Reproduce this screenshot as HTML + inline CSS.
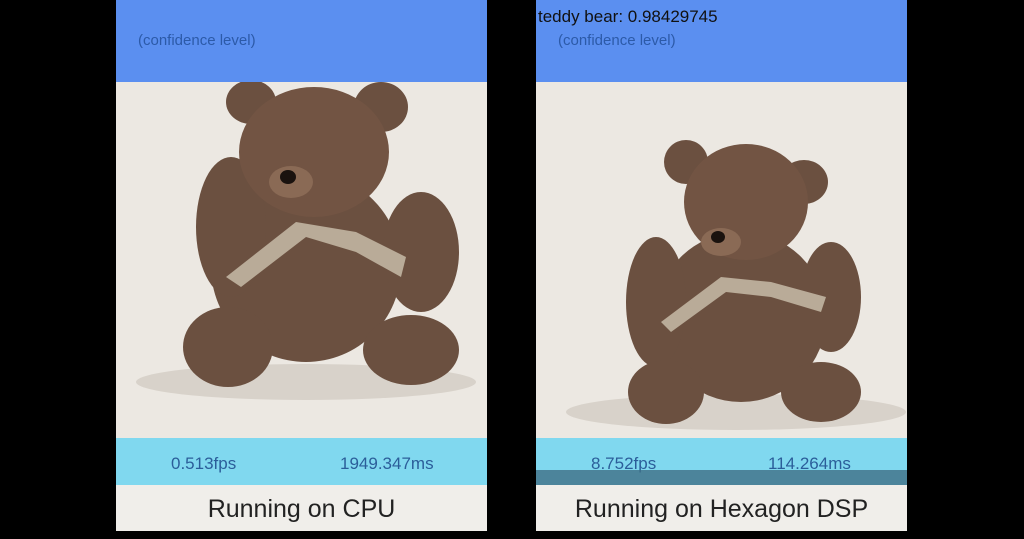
<!DOCTYPE html>
<html><head><meta charset="utf-8"><style>
body{margin:0;width:1024px;height:539px;background:#000;overflow:hidden;position:relative;font-family:"Liberation Sans",sans-serif}
.panel{position:absolute;top:0;width:371px;height:531px;background:#ece8e2}
.hdr{position:absolute;left:0;top:0;width:100%;height:82px;background:#5b8ff0}
.conf{position:absolute;left:22px;top:32px;font-size:15px;color:#2c5aa8}
.stats{position:absolute;left:0;top:438px;width:100%;height:47px;background:#80d8ef;font-size:17px;color:#2b5e9a}
.stats span{position:absolute;top:16px}
.foot{position:absolute;left:0;top:485px;width:100%;height:46px;background:#f0eeea;text-align:center;font-size:25px;line-height:48px;color:#222}
svg{position:absolute;left:0;top:82px}
</style></head><body>
<div class="panel" style="left:116px">
 <div class="hdr"><div class="conf">(confidence level)</div></div>
 <svg width="371" height="356">
  <g fill="#6b5040">
   <ellipse cx="190" cy="300" rx="170" ry="18" fill="#d8d2ca"/>
   <ellipse cx="190" cy="185" rx="95" ry="95"/>
   <ellipse cx="115" cy="145" rx="35" ry="70"/>
   <ellipse cx="305" cy="170" rx="38" ry="60"/>
   <ellipse cx="112" cy="265" rx="45" ry="40"/>
   <ellipse cx="295" cy="268" rx="48" ry="35"/>
   <ellipse cx="135" cy="20" rx="25" ry="22"/>
   <ellipse cx="265" cy="25" rx="27" ry="25"/>
   <ellipse cx="198" cy="70" rx="75" ry="65" fill="#725443"/>
   <ellipse cx="175" cy="100" rx="22" ry="16" fill="#8a6a55"/>
   <ellipse cx="172" cy="95" rx="8" ry="7" fill="#1a120e"/>
   <polygon points="110,195 180,140 240,150 290,175 285,195 240,170 190,155 125,205" fill="#b9ab98"/>
  </g>
 </svg>
 <div class="stats"><span style="left:55px">0.513fps</span><span style="left:224px">1949.347ms</span></div>
 <div class="foot">Running on CPU</div>
</div>
<div class="panel" style="left:536px">
 <div class="hdr">
  <div style="position:absolute;left:2px;top:7px;font-size:17px;color:#111">teddy bear: 0.98429745</div>
  <div class="conf">(confidence level)</div></div>
 <svg width="371" height="356">
  <g fill="#6b5040">
   <ellipse cx="200" cy="330" rx="170" ry="18" fill="#d8d2ca"/>
   <ellipse cx="205" cy="235" rx="85" ry="85"/>
   <ellipse cx="120" cy="220" rx="30" ry="65"/>
   <ellipse cx="295" cy="215" rx="30" ry="55"/>
   <ellipse cx="130" cy="310" rx="38" ry="32"/>
   <ellipse cx="285" cy="310" rx="40" ry="30"/>
   <ellipse cx="150" cy="80" rx="22" ry="22"/>
   <ellipse cx="268" cy="100" rx="24" ry="22"/>
   <ellipse cx="210" cy="120" rx="62" ry="58" fill="#725443"/>
   <ellipse cx="185" cy="160" rx="20" ry="14" fill="#8a6a55"/>
   <ellipse cx="182" cy="155" rx="7" ry="6" fill="#1a120e"/>
   <polygon points="125,240 185,195 235,200 290,215 285,230 235,215 190,210 135,250" fill="#b9ab98"/>
  </g>
 </svg>
 <div class="stats"><span style="left:55px">8.752fps</span><span style="left:232px">114.264ms</span>
  <div style="position:absolute;left:0;top:32px;width:100%;height:15px;background:#3f6f86;opacity:.8"></div></div>
 <div class="foot">Running on Hexagon DSP</div>
</div>
</body></html>
